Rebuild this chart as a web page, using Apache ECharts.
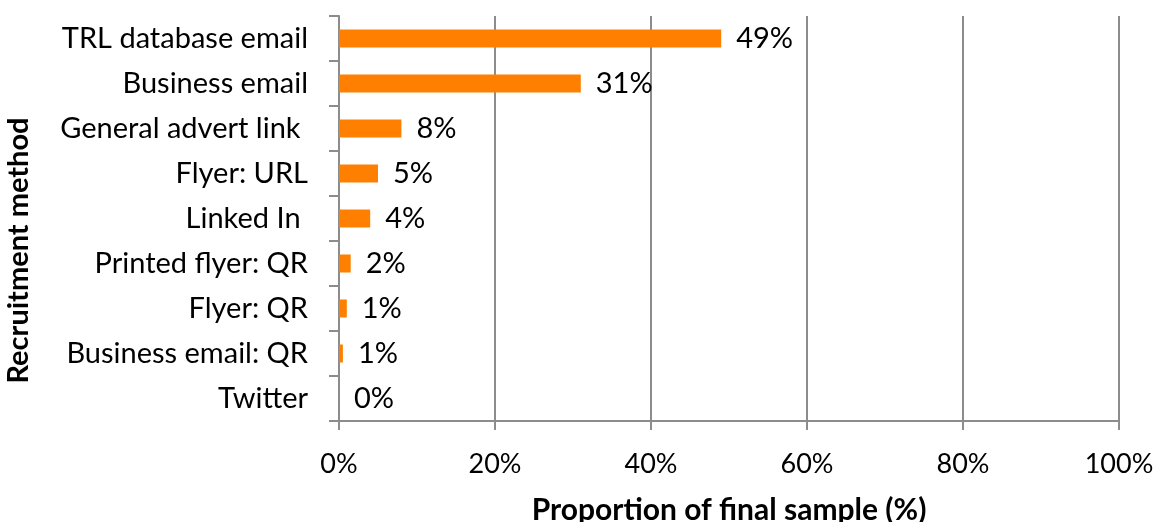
<!DOCTYPE html>
<html>
<head>
<meta charset="utf-8">
<script src="https://cdn.jsdelivr.net/npm/echarts@6/dist/echarts.min.js"></script>
<style>
  html, body { margin: 0; padding: 0; background: #fff; }
  #chart { width: 1158px; height: 522px; }
</style>
</head>
<body>
<div id="chart"></div>
<script>
// Recruitment methods, top to bottom
const categories = [
  'TRL database email',
  'Business email',
  'General advert link ',
  'Flyer: URL',
  'Linked In ',
  'Printed flyer: QR',
  'Flyer: QR',
  'Business email: QR',
  'Twitter'
];
// Share of the final sample, in percent (labels show the rounded value)
const shares = [49, 31, 8, 5, 4, 1.5, 1, 0.5, 0];
const xTicks = [0, 20, 40, 60, 80, 100];

const FONT = 'Lato, "Open Sans", sans-serif';
const AXIS_GRAY = '#8c8c8c';

const chart = echarts.init(document.getElementById('chart'), null, { renderer: 'canvas' });

chart.setOption({
  animation: false,
  backgroundColor: '#ffffff',
  grid: { left: 339, right: 39, top: 16, bottom: 101, containLabel: false, outerBoundsMode: 'none' },
  xAxis: {
    type: 'value',
    min: xTicks[0],
    max: xTicks[xTicks.length - 1],
    interval: xTicks[1] - xTicks[0],
    name: 'Proportion of final sample (%)',
    nameLocation: 'middle',
    nameGap: 74,
    nameTextStyle: { fontFamily: FONT, fontSize: 30, fontWeight: 'bold', color: '#000' },
    axisLine: { show: true, lineStyle: { color: AXIS_GRAY, width: 2 } },
    axisTick: { show: true, length: 9, lineStyle: { color: AXIS_GRAY, width: 2 } },
    axisLabel: {
      margin: 30,
      fontFamily: FONT, fontSize: 27, color: '#000',
      formatter: v => v + '%'
    },
    splitLine: { show: true, lineStyle: { color: AXIS_GRAY, width: 2 } }
  },
  yAxis: {
    type: 'category',
    data: categories,
    inverse: true,
    name: 'Recruitment method',
    nameLocation: 'middle',
    nameGap: 306,
    nameRotate: 90,
    nameTextStyle: {
      fontFamily: FONT, fontSize: 29, fontWeight: 'bold', color: '#000',
      padding: [0, 64, 0, 0]
    },
    axisLine: { show: true, lineStyle: { color: AXIS_GRAY, width: 2 } },
    axisTick: { show: true, length: 10, alignWithLabel: false, lineStyle: { color: AXIS_GRAY, width: 2 } },
    axisLabel: { margin: 31, fontFamily: FONT, fontSize: 29, color: '#000' },
    splitLine: { show: false }
  },
  series: [{
    type: 'bar',
    data: shares,
    barWidth: 18,
    itemStyle: { color: '#ff8000' },
    label: {
      show: true,
      position: 'right',
      distance: 15,
      fontFamily: FONT, fontSize: 29, color: '#000',
      formatter: p => Math.round(p.value) + '%'
    }
  }]
});
</script>
</body>
</html>
